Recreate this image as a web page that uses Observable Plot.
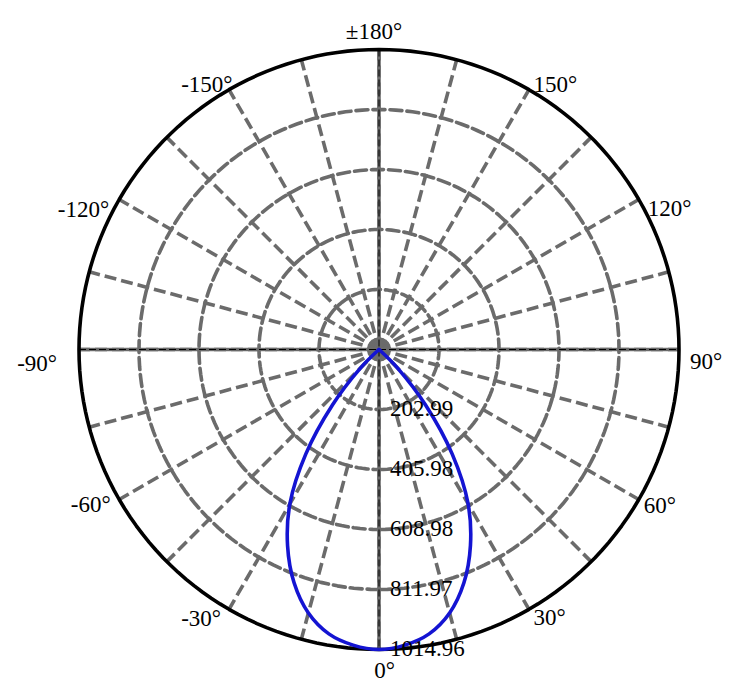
<!DOCTYPE html>
<html>
<head>
<meta charset="utf-8">
<script src="https://cdn.jsdelivr.net/npm/d3@7"></script>
<script src="https://cdn.jsdelivr.net/npm/@observablehq/plot@0.6"></script>
<style>
  html, body { margin: 0; padding: 0; background: #ffffff; }
  svg { display: block; }
</style>
</head>
<body>
<div id="chart"></div>
<script>
// ---- data ----
const angles = [
  -180,-175,-170,-165,-160,-155,-150,-145,-140,-135,-130,-125,-120,-115,-110,-105,-100,-95,-90,-85,-80,-75,-70,-65,-60,
  -55,-50,-45,-40,-35,-30,-25,-20,-15,-10,-5,0,5,10,15,20,25,30,35,40,45,50,55,
  60,65,70,75,80,85,90,95,100,105,110,115,120,125,130,135,140,145,150,155,160,165,170,175,180
];
const intensity = [
  0,0,0,0,0,0,0,0,0,0,0,0,0,0,0,0,0,0,0,0,0,0,0,0,0,
  0,5,89,245,432,603,732,840,923,977,1004,1014.96,1004,977,923,840,732,603,432,245,89,5,0,
  0,0,0,0,0,0,0,0,0,0,0,0,0,0,0,0,0,0,0,0,0,0,0,0,0
];
const ringValues = [202.99, 405.98, 608.98, 811.97, 1014.96];
const ringLabels = ["202.99", "405.98", "608.98", "811.97", "1014.96"];
const spokeAngles = [-165,-150,-135,-120,-105,-90,-75,-60,-45,-30,-15,0,15,30,45,60,75,90,105,120,135,150,165,180];
const tickAngles = [-150,-120,-90,-60,-30,0,30,60,90,120,150,180];
const tickLabels = ["-150°","-120°","-90°","-60°","-30°","0°","30°","60°","90°","120°","150°","±180°"];

// ---- layout ----
const W = 752, H = 699;
const cx = 378.5, cy = 349, Rpx = 300;
const maxV = ringValues[ringValues.length - 1];
const k = Rpx / maxV;
const rad = a => a * Math.PI / 180;
const px = (r, a) => r * Math.sin(rad(a));
const py = (r, a) => -r * Math.cos(rad(a));

const gridColor = "#6b6b6b";
const font = "'Liberation Serif', 'Times New Roman', serif";

// ring geometry derived from the ring tick values
const ringPts = [];
ringValues.forEach((v, i) => {
  for (let a = 0; a < 360; a += 2) ringPts.push({ring: i, v, a});
});
const innerRingPts = ringPts.filter(d => d.ring < ringValues.length - 1);
const outerRingPts = ringPts.filter(d => d.ring === ringValues.length - 1);

const curvePts = angles.map((a, i) => ({a, v: intensity[i]}));

const labelOpts = {
  "-150": ["end", "middle", 3.5, -5],
  "-120": ["end", "top", -10, 1],
  "-90":  ["end", "top", -22, 5],
  "-60":  ["end", "top", -8.5, -3.5],
  "-30":  ["end", "top", -8, 0],
  "0":    ["middle", "top", 5.5, 12.5],
  "30":   ["start", "top", 4.5, -1],
  "60":   ["start", "top", 5, -3],
  "90":   ["start", "top", 11, 3],
  "120":  ["start", "top", 9, 0],
  "150":  ["start", "middle", 4.5, -5.5],
  "180":  ["middle", "bottom", -5, -11]
};
const tickMarks = tickAngles.map((a, i) => {
  const [textAnchor, lineAnchor, dx, dy] = labelOpts[String(a)];
  return Plot.text([{a, label: tickLabels[i]}], {
    x: d => px(maxV, d.a), y: d => py(maxV, d.a), text: "label",
    textAnchor, lineAnchor, dx, dy,
    fontSize: 23, fontFamily: font, fill: "#000"
  });
});

const chart = Plot.plot({
  width: W, height: H,
  marginTop: 0, marginRight: 0, marginBottom: 0, marginLeft: 0,
  x: {domain: [-cx / k, (W - cx) / k], range: [0, W], axis: null},
  y: {domain: [-(H - cy) / k, cy / k], range: [H, 0], axis: null},
  style: {background: "#fff", overflow: "visible"},
  marks: [
    Plot.line(innerRingPts, {
      x: d => px(d.v, d.a), y: d => py(d.v, d.a), z: "ring",
      curve: "linear-closed", stroke: gridColor, strokeWidth: 3.6, strokeDasharray: "12,5"
    }),
    Plot.link(spokeAngles, {
      x1: () => 0, y1: () => 0,
      x2: a => px(maxV, a), y2: a => py(maxV, a),
      stroke: gridColor, strokeWidth: 3.6, strokeDasharray: "12,5"
    }),
    Plot.link([0, 90], {
      x1: a => px(maxV, a + 180), y1: a => py(maxV, a + 180),
      x2: a => px(maxV, a), y2: a => py(maxV, a),
      stroke: gridColor, strokeWidth: 3.6
    }),
    Plot.link([0, 90], {
      x1: a => px(maxV, a + 180), y1: a => py(maxV, a + 180),
      x2: a => px(maxV, a), y2: a => py(maxV, a),
      stroke: "#000", strokeWidth: 1, strokeDasharray: "7,3"
    }),
    Plot.line(outerRingPts, {
      x: d => px(d.v, d.a), y: d => py(d.v, d.a),
      curve: "linear-closed", stroke: "#000", strokeWidth: 3.6
    }),
    Plot.line(curvePts, {
      x: d => px(d.v, d.a), y: d => py(d.v, d.a),
      curve: "catmull-rom-closed", stroke: "#1414d2", strokeWidth: 3.6, strokeLinejoin: "round"
    }),
    Plot.text(ringValues, {
      x: () => 0, y: v => -v, text: (v, i) => ringLabels[i],
      textAnchor: "start", lineAnchor: "middle", dx: 11, dy: -1,
      fontSize: 23, fontFamily: font, fill: "#000"
    }),
    ...tickMarks
  ]
});
document.getElementById("chart").appendChild(chart);
</script>
</body>
</html>
